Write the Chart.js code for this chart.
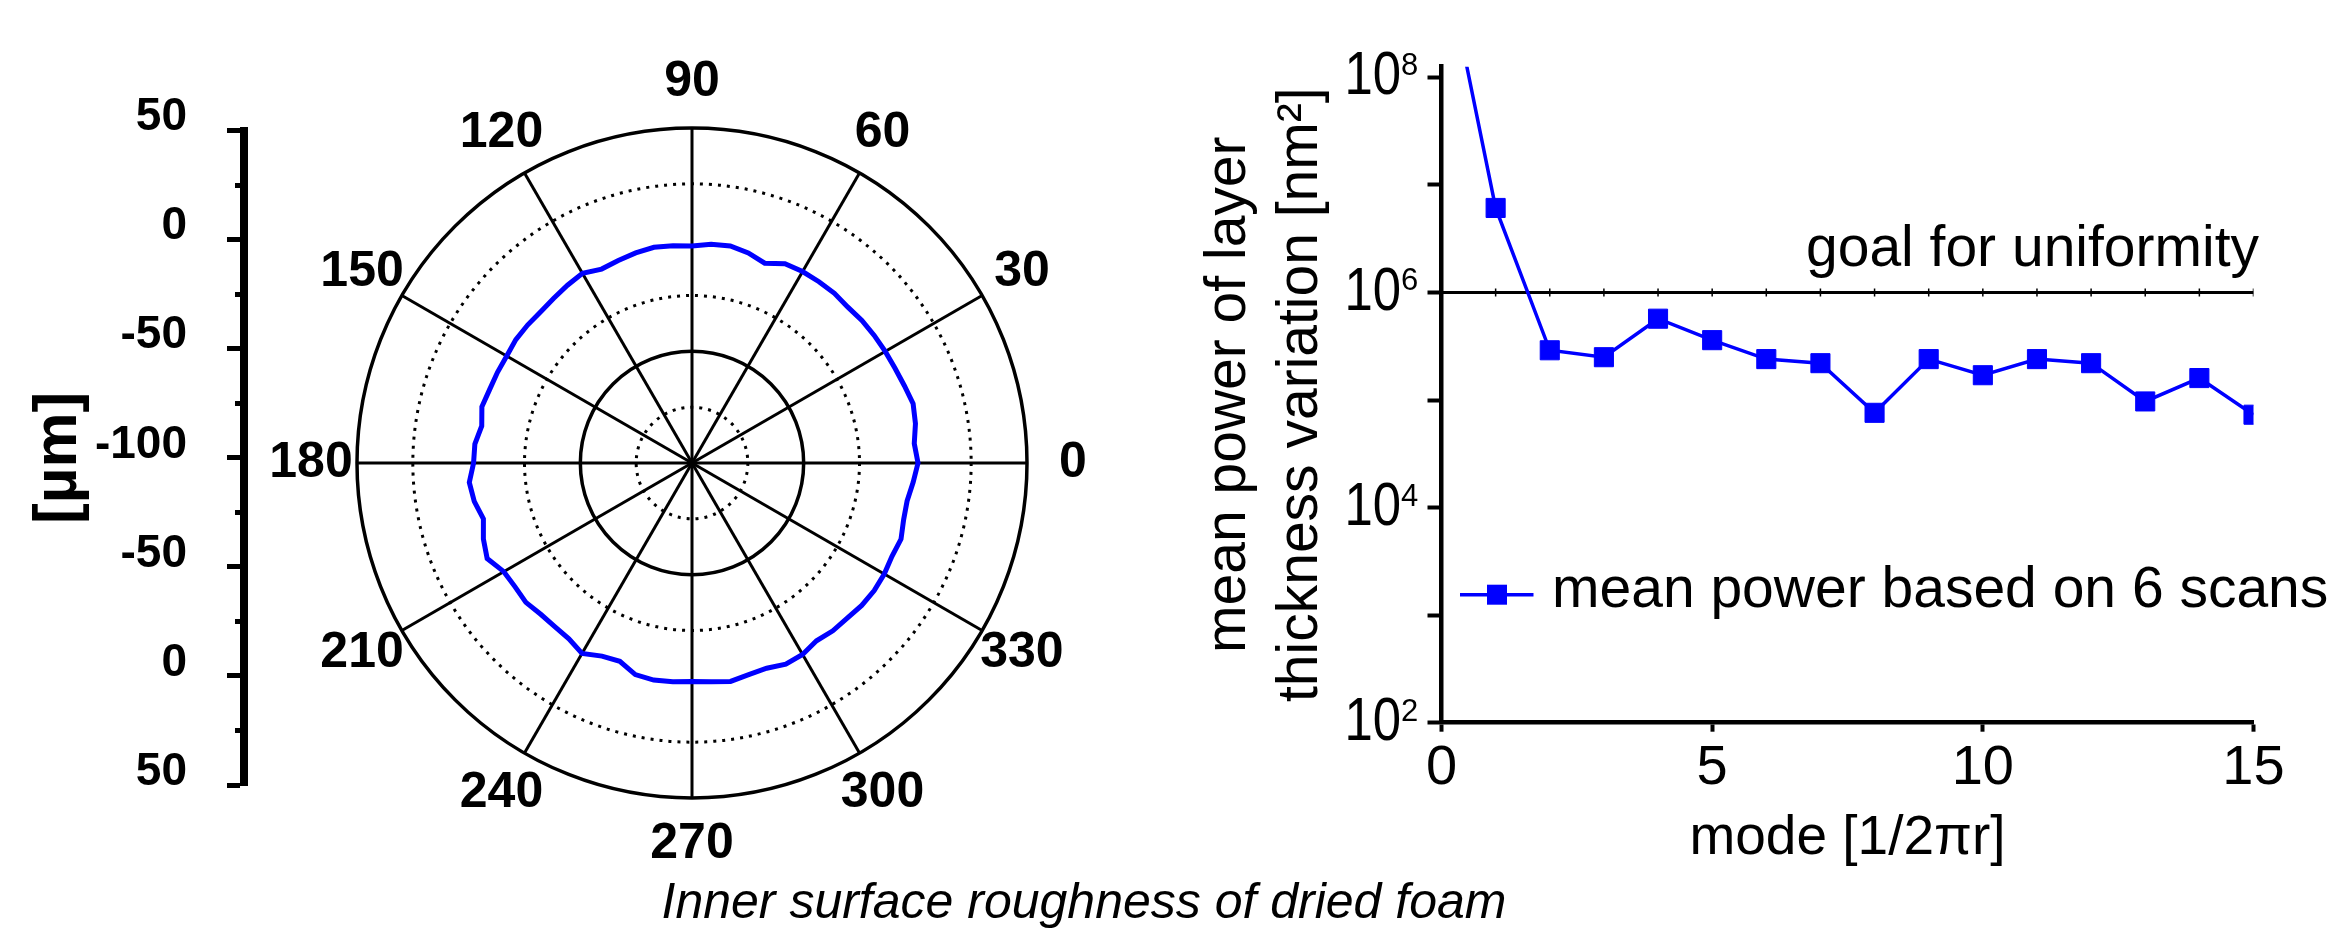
<!DOCTYPE html>
<html>
<head>
<meta charset="utf-8">
<script src="https://cdn.jsdelivr.net/npm/chart.js@4.4.1/dist/chart.umd.min.js"></script>
<style>
  html, body { margin: 0; padding: 0; background: #fff; }
  body { width: 2335px; height: 937px; position: relative; overflow: hidden; }
  canvas { position: absolute; top: 0; }
  #axisCanvas { left: 0; }
  #polarCanvas { left: 200px; }
  #modeCanvas { left: 1180px; }
  #caption { position: absolute; left: 584px; width: 1000px; top: 876px; text-align: center;
    font: italic 50px/50px "Liberation Sans", Arial, sans-serif; color: #000; }
</style>
</head>
<body>
<canvas id="axisCanvas" width="300" height="937"></canvas>
<canvas id="polarCanvas" width="920" height="937"></canvas>
<canvas id="modeCanvas" width="1155" height="937"></canvas>
<div id="caption">Inner surface roughness of dried foam</div>
<script>
// polar profile: radius in µm, every 5 degrees, counter-clockwise from 0
const profileAngles = [0, 5, 10, 15, 20, 25, 30, 35, 40, 45, 50, 55, 60, 65, 70, 75, 80, 85,
  90, 95, 100, 105, 110, 115, 120, 125, 130, 135, 140, 145, 150, 155, 160, 165, 170, 175,
  180, 185, 190, 195, 200, 205, 210, 215, 220, 225, 230, 235, 240, 245, 250, 255, 260, 265,
  270, 275, 280, 285, 290, 295, 300, 305, 310, 315, 320, 325, 330, 335, 340, 345, 350, 355];
const profileRadius = [1.2, -0.1, 1.6, 2.5, 1.2, 0.3, -0.1, -0.4, -0.7, -1.3, -0.8, -0.9, -1.0, -1.5, -4.8, -2.6, -1.3, -1.7,
  -2.8, -2.4, -1.9, -2.6, -3.5, -4.2, -1.9, -2.8, -3.7, -4.2, -3.9, -3.7, -4.2, -3.9, -3.6, -2.6, -4.4, -2.4,
  -2.2, 0.1, -1.0, -3.3, -0.6, 1.2, -2.7, -3.3, -2.9, -4.2, -4.4, -3.9, -1.5, -4.6, -5.5, -1.9, -1.3, -1.7,
  -2.2, -1.7, -0.7, -1.9, -2.2, -0.6, -1.0, -2.8, -1.9, -1.7, -0.8, -0.4, -0.6, -1.2, -0.4, -1.9, -2.2, -0.6];
const angleLabelStep = 30;
const radiusMin = -100;
const radiusMax = 50;
const solidRings = [-50, 50];
const dottedRings = [-75, -25, 25];

// mirrored radius axis on the left (axis value -> label -100 + |v|)
const sideAxisMin = -150;
const sideAxisMax = 150;
const sideMajorTicks = [-150, -100, -50, 0, 50, 100, 150];
const sideMinorTicks = [-125, -75, -25, 25, 75, 125];

// power spectrum
const modes = [0, 1, 2, 3, 4, 5, 6, 7, 8, 9, 10, 11, 12, 13, 14, 15];
const meanPower = [1.8e9, 6.1e6, 2.9e5, 2.5e5, 5.7e5, 3.6e5, 2.4e5, 2.2e5, 7.6e4, 2.4e5, 1.7e5, 2.4e5, 2.2e5, 9.7e4, 1.6e5, 7.3e4];
const goalValue = 1e6;
const powerTicks = [1e2, 1e3, 1e4, 1e5, 1e6, 1e7, 1e8];
const powerLabelExponents = [2, 4, 6, 8];
const powerMin = 1e2;
const powerMax = 1.255e8;

const FONT = '"Liberation Sans", Arial, Helvetica, sans-serif';
Chart.defaults.font.family = FONT;
Chart.defaults.color = '#000';

// ---------- left mirrored axis ----------
new Chart(document.getElementById('axisCanvas'), {
    type: 'line',
    data: { datasets: [] },
    options: {
        responsive: false,
        animation: false,
        devicePixelRatio: 1,
        layout: { padding: { left: 0, right: 0, top: 130.7, bottom: 152 } },
        plugins: { legend: { display: false }, tooltip: { enabled: false } },
        scales: {
            x: { type: 'linear', display: false, min: 0, max: 1 },
            y: {
                axis: 'y',
                position: 'left',
                weight: 1,
                min: sideAxisMin,
                max: sideAxisMax,
                afterFit: s => { s.width = 244; },
                afterBuildTicks: s => { s.ticks = sideMajorTicks.map(v => ({ value: v })); },
                ticks: {
                    padding: 40,
                    labelOffset: -13,
                    font: { size: 46, weight: 'bold' },
                    callback: v => String(radiusMin + Math.abs(v))
                },
                grid: { display: true, drawOnChartArea: false, drawTicks: true, tickLength: 17, tickWidth: 5, tickColor: '#000' },
                border: { display: true, width: 8, color: '#000' },
                title: { display: true, text: '[µm]', font: { size: 62, weight: 'bold' }, padding: { top: 22 } }
            },
            y2: {
                axis: 'y',
                position: 'left',
                weight: 0,
                min: sideAxisMin,
                max: sideAxisMax,
                afterFit: s => { s.width = 0; },
                afterBuildTicks: s => { s.ticks = sideMinorTicks.map(v => ({ value: v })); },
                ticks: { display: false },
                grid: { display: true, drawOnChartArea: false, drawTicks: true, tickLength: 9, tickWidth: 5, tickColor: '#000' },
                border: { display: false }
            }
        }
    }
});

// ---------- polar profile ----------
// radar runs clockwise, so feed it the angles in reverse
const N = profileAngles.length;
const radarLabels = profileAngles.map((a, i) => profileAngles[(N - i) % N]);
const radarValues = profileAngles.map((a, i) => profileRadius[(N - i) % N]);

const polarLabels = {
    id: 'polarLabels',
    afterDraw(chart) {
        const r = chart.scales.r;
        const ctx = chart.ctx;
        ctx.save();
        ctx.font = 'bold 50px ' + FONT;
        ctx.fillStyle = '#000';
        ctx.textAlign = 'center';
        ctx.textBaseline = 'middle';
        chart.data.labels.forEach((lab, i) => {
            if (lab % angleLabelStep !== 0) return;
            const p = r.getPointPosition(i, r.drawingArea + 46);
            ctx.fillText(String(lab), p.x, p.y);
        });
        ctx.restore();
    }
};

function ringKind(v) {
    if (solidRings.includes(v)) return 'solid';
    if (dottedRings.includes(v)) return 'dotted';
    return 'none';
}

new Chart(document.getElementById('polarCanvas'), {
    type: 'radar',
    data: {
        labels: radarLabels,
        datasets: [{
            data: radarValues,
            borderColor: '#0000ff',
            backgroundColor: 'rgba(0,0,0,0)',
            borderWidth: 5,
            pointRadius: 0,
            fill: false,
            tension: 0
        }]
    },
    options: {
        responsive: false,
        animation: false,
        devicePixelRatio: 1,
        layout: { padding: { left: 157, right: 93, top: 128, bottom: 139 } },
        plugins: { legend: { display: false }, tooltip: { enabled: false } },
        scales: {
            r: {
                min: radiusMin,
                max: radiusMax,
                startAngle: 90,
                ticks: { display: false, stepSize: 25 },
                pointLabels: { display: false },
                grid: {
                    circular: true,
                    color: c => ringKind(c.tick.value) === 'none' ? 'rgba(0,0,0,0)' : '#000',
                    lineWidth: c => ringKind(c.tick.value) === 'solid' ? 3.5 : (ringKind(c.tick.value) === 'dotted' ? 3 : 0)
                },
                border: {
                    dash: c => ringKind(c.tick.value) === 'dotted' ? [3, 6] : []
                },
                angleLines: {
                    color: '#000',
                    lineWidth: c => (c.label % angleLabelStep === 0) ? 3 : 0
                }
            }
        }
    },
    plugins: [polarLabels]
});

// ---------- power spectrum ----------
const powerAxisLabels = {
    id: 'powerAxisLabels',
    afterDraw(chart) {
        const y = chart.scales.y;
        const ctx = chart.ctx;
        const xr = y.right - 40.5;
        ctx.save();
        ctx.fillStyle = '#000';
        powerLabelExponents.forEach(e => {
            const py = y.getPixelForValue(Math.pow(10, e));
            ctx.save();
            ctx.translate(xr, py);
            ctx.scale(0.82, 1);
            ctx.font = '62px ' + FONT;
            ctx.textAlign = 'right';
            ctx.textBaseline = 'middle';
            ctx.fillText('10', 0, 0);
            ctx.restore();
            ctx.font = '31px ' + FONT;
            ctx.textAlign = 'left';
            ctx.textBaseline = 'top';
            ctx.fillText(String(e), xr, py - 26);
        });
        ctx.restore();
    }
};

const powerNotes = {
    id: 'powerNotes',
    afterDraw(chart) {
        const {x, y} = chart.scales;
        const ctx = chart.ctx;
        const ds = chart.data.datasets[0];
        ctx.save();
        ctx.fillStyle = '#000';
        ctx.font = '57px ' + FONT;
        ctx.textAlign = 'right';
        ctx.textBaseline = 'alphabetic';
        ctx.fillText('goal for uniformity', x.getPixelForValue(modes[modes.length - 1]) + 5.5, y.getPixelForValue(goalValue) - 26);

        // legend inside the plot
        const area = chart.chartArea;
        const ly = area.top + 528;
        ctx.strokeStyle = ds.borderColor;
        ctx.lineWidth = ds.borderWidth;
        ctx.beginPath();
        ctx.moveTo(area.left + 18.5, ly);
        ctx.lineTo(area.left + 92, ly);
        ctx.stroke();
        ctx.fillStyle = ds.backgroundColor;
        ctx.fillRect(area.left + 55.5 - 10, ly - 10, 20, 20);
        ctx.fillStyle = '#000';
        ctx.textAlign = 'left';
        ctx.fillText(ds.label, area.left + 110.5, ly + 12);
        ctx.restore();
    }
};

new Chart(document.getElementById('modeCanvas'), {
    type: 'line',
    data: {
        datasets: [
            {
                label: 'mean power based on 6 scans',
                data: modes.map((m, i) => ({ x: m, y: meanPower[i] })),
                borderColor: '#0000ff',
                backgroundColor: '#0000ff',
                borderWidth: 3.5,
                pointStyle: 'rect',
                pointRadius: 13.5,
                pointBorderWidth: 1,
                pointBorderColor: '#0000ff',
                pointBackgroundColor: '#0000ff',
                tension: 0,
                clip: 0
            },
            {
                label: 'goal',
                data: modes.map(m => ({ x: m, y: goalValue })),
                borderColor: '#000',
                borderWidth: 3,
                pointStyle: 'line',
                pointRotation: 90,
                pointRadius: 4,
                pointBorderWidth: 1.5,
                pointBorderColor: '#000',
                tension: 0,
                clip: 0
            }
        ]
    },
    options: {
        responsive: false,
        animation: false,
        devicePixelRatio: 1,
        layout: { padding: { left: 0, right: 81.5, top: 66.7, bottom: 0 } },
        plugins: { legend: { display: false }, tooltip: { enabled: false } },
        scales: {
            x: {
                type: 'linear',
                min: 0,
                max: 15,
                afterFit: s => { s.height = 937 - 722.7; },
                ticks: { stepSize: 5, padding: 3, font: { size: 56 } },
                grid: { display: true, drawOnChartArea: false, drawTicks: true, tickLength: 9, tickWidth: 4, tickColor: '#000' },
                border: { display: true, width: 4.5, color: '#000' },
                title: { display: true, text: 'mode [1/2πr]', font: { size: 55 }, padding: { bottom: 65 } }
            },
            y: {
                type: 'logarithmic',
                min: powerMin,
                max: powerMax,
                afterFit: s => { s.width = 261.5; },
                afterBuildTicks: s => { s.ticks = powerTicks.map(v => ({ value: v })); },
                ticks: { display: false },
                grid: { display: true, drawOnChartArea: false, drawTicks: true, tickLength: 14, tickWidth: 4, tickColor: '#000' },
                border: { display: true, width: 4.5, color: '#000' },
                title: {
                    display: true,
                    text: ['mean power of layer', 'thickness variation [nm²]'],
                    font: { size: 57, lineHeight: 1.25 },
                    padding: { top: 14 }
                }
            }
        }
    },
    plugins: [powerAxisLabels, powerNotes]
});
</script>
</body>
</html>
